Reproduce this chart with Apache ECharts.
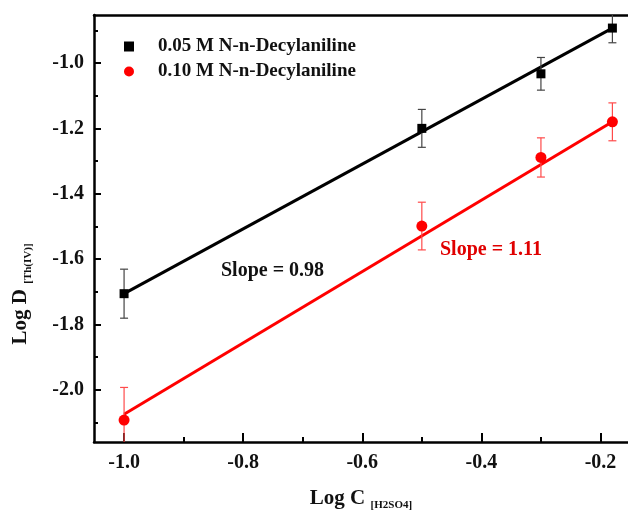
<!DOCTYPE html>
<html>
<head>
<meta charset="utf-8">
<script src="https://cdn.jsdelivr.net/npm/echarts@6/dist/echarts.min.js"></script>
<style>html,body{margin:0;padding:0;background:#fff;}#c{width:628px;height:516px;}</style>
</head>
<body>
<div id="c"></div>
<script>
// ---- data ----
const xValues = [-1.0, -0.5, -0.3, -0.18];
const seriesBlackName = '0.05 M N-n-Decylaniline';
const seriesRedName = '0.10 M N-n-Decylaniline';
const blackY = [-1.706, -1.200, -1.033, -0.893];
const blackErr = [0.075, 0.058, 0.050, 0.045];
const redY = [-2.093, -1.499, -1.289, -1.180];
const redErr = [0.100, 0.073, 0.060, 0.058];
const fitX = [-1.0, -0.18];
const blackFitY = [-1.706, -0.893];
const redFitY = [-2.075, -1.180];
const xTickLabels = [-1.0, -0.8, -0.6, -0.4, -0.2];
const xMinorTicks = [-0.9, -0.7, -0.5, -0.3];
const yTickLabels = [-2.0, -1.8, -1.6, -1.4, -1.2, -1.0];
const yMinorTicks = [-2.1, -1.9, -1.7, -1.5, -1.3, -1.1, -0.9];
const blackSlopeText = 'Slope = 0.98';
const redSlopeText = 'Slope = 1.11';

const FONT = '"Times New Roman", "Liberation Serif", serif';
const X_MIN = -1.0505, X_MAX = -0.1538, Y_MIN = -2.160, Y_MAX = -0.853;

const chart = echarts.init(document.getElementById('c'), null, {renderer: 'canvas'});

function errData(ys, errs) {
  return xValues.map((x, i) => [x, ys[i] - errs[i], ys[i] + errs[i]]);
}
function errRender(color) {
  return function (params, api) {
    const x = api.value(0);
    const lo = api.coord([x, api.value(1)]);
    const hi = api.coord([x, api.value(2)]);
    const cap = 4;
    const st = {stroke: color, lineWidth: 1.2};
    return {
      type: 'group',
      children: [
        {type: 'line', shape: {x1: lo[0], y1: lo[1], x2: hi[0], y2: hi[1]}, style: st},
        {type: 'line', shape: {x1: lo[0] - cap, y1: lo[1], x2: lo[0] + cap, y2: lo[1]}, style: st},
        {type: 'line', shape: {x1: hi[0] - cap, y1: hi[1], x2: hi[0] + cap, y2: hi[1]}, style: st}
      ]
    };
  };
}

const axisLabelStyle = {fontFamily: FONT, fontWeight: 'bold', fontSize: 20, color: '#111'};
const axisLineStyle = {show: true, onZero: false, lineStyle: {color: '#000', width: 2.5}};

const option = {
  animation: false,
  backgroundColor: '#fff',
  grid: {left: 94, top: 15, width: 534, bottom: 64, containLabel: false},
  legend: {
    orient: 'vertical',
    left: 119, top: 32,
    itemWidth: 10, itemHeight: 10, itemGap: 6,
    data: [
      {name: seriesBlackName, icon: 'rect', itemStyle: {color: '#000', opacity: 1}},
      {name: seriesRedName, icon: 'circle', itemStyle: {color: '#ff0000', opacity: 1}}
    ],
    textStyle: {fontFamily: FONT, fontWeight: 'bold', fontSize: 19, color: '#111', padding: [0, 0, 0, 19], lineHeight: 19}
  },
  xAxis: [
    {
      type: 'value', min: X_MIN, max: X_MAX, position: 'bottom',
      axisLine: axisLineStyle,
      axisTick: {show: true, inside: true, length: 9, customValues: xTickLabels, lineStyle: {color: '#000', width: 2}},
      axisLabel: {show: true, customValues: xTickLabels, margin: 11, formatter: v => v.toFixed(1), ...axisLabelStyle},
      splitLine: {show: false},
      name: '{a|Log C} {b|[H2SO4]}',
      nameLocation: 'middle', nameGap: 44,
      nameTextStyle: {
        rich: {
          a: {fontFamily: FONT, fontWeight: 'bold', fontSize: 21, color: '#111'},
          b: {fontFamily: FONT, fontWeight: 'bold', fontSize: 11, color: '#111', padding: [14, 0, 0, 2]}
        }
      }
    },
    {
      type: 'value', min: X_MIN, max: X_MAX, position: 'bottom',
      axisLine: {show: false, onZero: false},
      axisTick: {show: true, inside: true, length: 5, customValues: xMinorTicks, lineStyle: {color: '#000', width: 2}},
      axisLabel: {show: false},
      splitLine: {show: false}
    },
    {
      type: 'value', min: X_MIN, max: X_MAX, position: 'top',
      axisLine: axisLineStyle,
      axisTick: {show: false}, axisLabel: {show: false}, splitLine: {show: false}
    }
  ],
  yAxis: [
    {
      type: 'value', min: Y_MIN, max: Y_MAX, position: 'left',
      axisLine: axisLineStyle,
      axisTick: {show: true, inside: true, length: 7, customValues: yTickLabels, lineStyle: {color: '#000', width: 2}},
      axisLabel: {show: true, customValues: yTickLabels, margin: 10, formatter: v => v.toFixed(1), ...axisLabelStyle},
      splitLine: {show: false}
    },
    {
      type: 'value', min: Y_MIN, max: Y_MAX, position: 'left',
      axisLine: {show: false, onZero: false},
      axisTick: {show: true, inside: true, length: 4, customValues: yMinorTicks, lineStyle: {color: '#000', width: 2}},
      axisLabel: {show: false},
      splitLine: {show: false}
    }
  ],
  series: [
    {
      name: 'blackFit', type: 'line', xAxisIndex: 0, yAxisIndex: 0,
      data: fitX.map((x, i) => [x, blackFitY[i]]),
      showSymbol: false, symbol: 'none', lineStyle: {color: '#000', width: 3}, z: 2, silent: true
    },
    {
      name: 'redFit', type: 'line', xAxisIndex: 0, yAxisIndex: 0,
      data: fitX.map((x, i) => [x, redFitY[i]]),
      showSymbol: false, symbol: 'none', lineStyle: {color: '#ff0000', width: 3}, z: 2, silent: true
    },
    {
      name: 'blackErr', type: 'custom', xAxisIndex: 0, yAxisIndex: 0, clip: true,
      data: errData(blackY, blackErr), renderItem: errRender('#444'), z: 3, silent: true
    },
    {
      name: 'redErr', type: 'custom', xAxisIndex: 0, yAxisIndex: 0, clip: true,
      data: errData(redY, redErr), renderItem: errRender('#ff4a4a'), z: 3, silent: true
    },
    {
      name: seriesBlackName, type: 'scatter', xAxisIndex: 0, yAxisIndex: 0,
      data: xValues.map((x, i) => [x, blackY[i]]),
      symbol: 'rect', symbolSize: 9, itemStyle: {color: '#000', opacity: 1}, z: 4
    },
    {
      name: seriesRedName, type: 'scatter', xAxisIndex: 0, yAxisIndex: 0,
      data: xValues.map((x, i) => [x, redY[i]]),
      symbol: 'circle', symbolSize: 11, itemStyle: {color: '#ff0000', opacity: 1}, z: 4
    }
  ],
  graphic: [
    {
      type: 'text', left: 221, top: 261,
      style: {text: blackSlopeText, font: 'bold 20px ' + FONT, fill: '#111'}
    },
    {
      type: 'text', left: 440, top: 240,
      style: {text: redSlopeText, font: 'bold 20px ' + FONT, fill: '#e00000'}
    },
    {
      type: 'text', x: 21, y: 294, rotation: Math.PI / 2,
      style: {
        text: '{a|Log D} {b|[Th(IV)]}',
        align: 'center', verticalAlign: 'middle',
        rich: {
          a: {font: 'bold 21px ' + FONT, fill: '#111'},
          b: {font: 'bold 11px ' + FONT, fill: '#111', padding: [14, 0, 0, 2]}
        }
      }
    }
  ]
};
chart.setOption(option);
</script>
</body>
</html>
